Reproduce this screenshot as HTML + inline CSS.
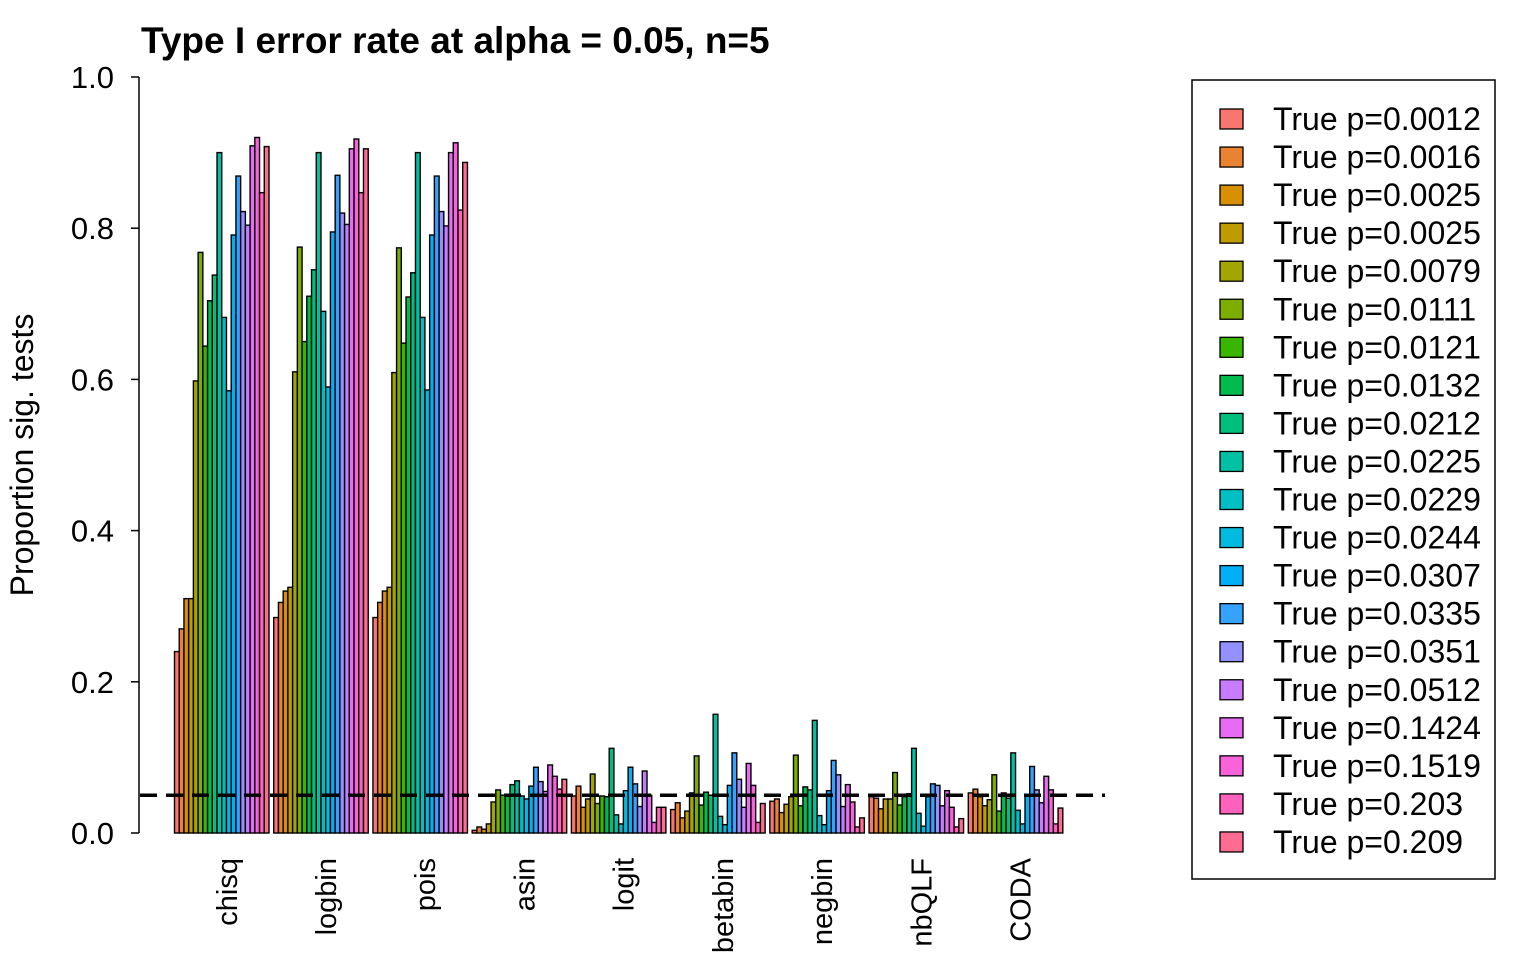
<!DOCTYPE html>
<html><head><meta charset="utf-8"><style>
body{margin:0;background:#fff;}
svg{display:block;font-family:"Liberation Sans",Arial,sans-serif;}
</style></head><body>
<svg id="chart" width="1536" height="960" viewBox="0 0 1536 960">
<text x="141" y="53" font-size="37" font-weight="bold">Type I error rate at alpha = 0.05, n=5</text>
<text transform="translate(33,455) rotate(-90)" text-anchor="middle" font-size="32">Proportion sig. tests</text>
<g id="yaxis"></g>
<g id="bars"></g>
<g id="xlabels"></g>
<g id="legend"></g>
</svg>
<script>
const categories = ["chisq","logbin","pois","asin","logit","betabin","negbin","nbQLF","CODA"];
const seriesNames = ["True p=0.0012","True p=0.0016","True p=0.0025","True p=0.0025","True p=0.0079","True p=0.0111","True p=0.0121","True p=0.0132","True p=0.0212","True p=0.0225","True p=0.0229","True p=0.0244","True p=0.0307","True p=0.0335","True p=0.0351","True p=0.0512","True p=0.1424","True p=0.1519","True p=0.203","True p=0.209"];
const colors = ["#F8766D","#EA8331","#D89000","#C09B00","#A3A500","#7CAE00","#39B600","#00BB4E","#00BF7D","#00C1A3","#00BFC4","#00BAE0","#00B0F6","#35A2FF","#9590FF","#C77CFF","#E76BF3","#FA62DB","#FF62BC","#FF6C91"];
const valChisq = [0.24,0.27,0.31,0.31,0.598,0.768,0.644,0.704,0.738,0.90,0.682,0.585,0.791,0.869,0.822,0.804,0.909,0.92,0.847,0.908];
const valLogbin = [0.285,0.305,0.32,0.325,0.61,0.775,0.65,0.71,0.745,0.90,0.69,0.59,0.795,0.87,0.82,0.805,0.905,0.918,0.847,0.905];
const valPois = [0.285,0.305,0.32,0.325,0.609,0.774,0.648,0.709,0.741,0.90,0.682,0.586,0.791,0.869,0.822,0.803,0.90,0.913,0.824,0.887];
const valAsin = [0.0035,0.008,0.005,0.012,0.041,0.057,0.05,0.049,0.064,0.069,0.049,0.045,0.062,0.087,0.068,0.055,0.09,0.075,0.058,0.071];
const valLogit = [0.049,0.062,0.034,0.045,0.078,0.039,0.049,0.048,0.112,0.024,0.012,0.056,0.087,0.065,0.035,0.082,0.05,0.014,0.034,0.034];
const valBetabin = [0.031,0.04,0.02,0.029,0.053,0.102,0.037,0.054,0.05,0.157,0.022,0.011,0.063,0.106,0.071,0.034,0.092,0.063,0.014,0.039];
const valNegbin = [0.042,0.045,0.027,0.038,0.048,0.103,0.036,0.061,0.057,0.149,0.023,0.011,0.056,0.096,0.077,0.035,0.064,0.041,0.008,0.02];
const valNbQLF = [0.048,0.046,0.032,0.045,0.045,0.08,0.037,0.048,0.052,0.112,0.026,0.009,0.048,0.065,0.063,0.036,0.056,0.034,0.008,0.019];
const valCODA = [0.053,0.058,0.048,0.036,0.044,0.077,0.029,0.053,0.046,0.106,0.03,0.012,0.05,0.088,0.057,0.04,0.075,0.057,0.012,0.033];
const allValues = [valChisq,valLogbin,valPois,valAsin,valLogit,valBetabin,valNegbin,valNbQLF,valCODA];
const yTicks = [0,0.2,0.4,0.6,0.8,1.0];
const yTickLabels = ["0.0","0.2","0.4","0.6","0.8","1.0"];
const alphaLine = 0.05;

const NS="http://www.w3.org/2000/svg";
const y0=833, yTop=77;
function yScale(v){return y0-(y0-yTop)*v;}
const barW=4.725, groupStart=174.5;
function xScale(g,s){return groupStart+(g*21+s)*barW;}
function mk(tag,attrs,parent){const e=document.createElementNS(NS,tag);for(const k in attrs)e.setAttribute(k,attrs[k]);parent.appendChild(e);return e;}

const ya=document.getElementById('yaxis');
let ax=mk('line',{x1:139,x2:139,y1:yScale(1),y2:yScale(0),stroke:'#000','stroke-width':1.5},ya);


yTicks.forEach((t,i)=>{
  const tk=mk('line',{x1:131,x2:139,y1:yScale(t),y2:yScale(t),stroke:'#000','stroke-width':1.5},ya);
  
  
  const tl=mk('text',{x:114,y:yScale(t)+11,'text-anchor':'end','font-size':31},ya);
  tl.textContent=yTickLabels[i];
  
  
});

const bg=document.getElementById('bars');
allValues.forEach((vals,g)=>{
  vals.forEach((v,s)=>{
    const r=mk('rect',{x:xScale(g,s),y:yScale(v),width:barW,height:yScale(0)-yScale(v),fill:colors[s],stroke:'#000','stroke-width':1.4},bg);
    
    
  });
});
const dl=mk('line',{x1:140,x2:1105,y1:yScale(alphaLine),y2:yScale(alphaLine),stroke:'#000','stroke-width':3.5,'stroke-dasharray':'17,9'},bg);



const xl=document.getElementById('xlabels');
categories.forEach((c,g)=>{
  const cx=xScale(g,10)+5;
  const t=mk('text',{transform:'translate('+(cx+10)+',858) rotate(-90)','text-anchor':'end','font-size':29},xl);
  t.textContent=c;
  
  
});

const lg=document.getElementById('legend');
const box=mk('rect',{x:1192,y:80,width:303,height:799,fill:'#fff',stroke:'#000','stroke-width':1.5},lg);


seriesNames.forEach((n,i)=>{
  const yy=119+i*38.05;
  const sq=mk('rect',{x:1220,y:yy-10,width:23,height:20,fill:colors[i],stroke:'#000','stroke-width':1.3},lg);
  
  
  const t=mk('text',{x:1273,y:yy+11,'font-size':32},lg);
  t.textContent=n;
  
  
});
</script>
</body></html>
